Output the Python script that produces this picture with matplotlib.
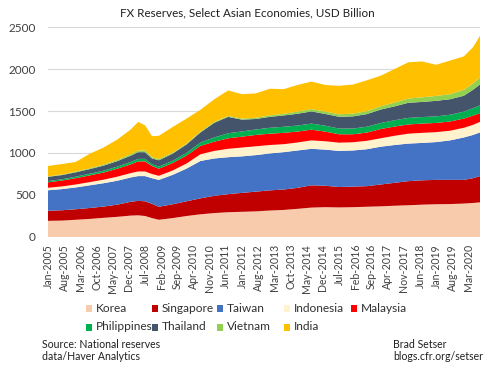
import matplotlib
matplotlib.use("Agg")
import matplotlib.pyplot as plt
from matplotlib.patches import Patch

# ---- data (USD billion), sampled months since Jan-2005 ----
months = [0, 6, 12, 18, 24, 30, 36, 39, 42, 45, 48, 54, 60, 66, 72, 78, 84, 90, 96,
          102, 108, 114, 120, 126, 132, 138, 144, 150, 156, 162, 168, 174, 180, 184, 187]

korea = [192, 195, 205, 215, 228, 240, 255, 258, 250, 225, 205, 225, 250, 270, 285, 295, 300, 305, 315,
         322, 335, 350, 355, 352, 355, 360, 365, 372, 378, 385, 390, 392, 398, 405, 412]
singapore = [120, 123, 125, 130, 134, 145, 165, 172, 175, 170, 155, 165, 175, 190, 205, 215, 225, 235, 240,
             243, 250, 265, 255, 243, 245, 245, 260, 273, 287, 290, 290, 288, 282, 295, 313]
taiwan = [244, 252, 260, 270, 278, 285, 290, 295, 300, 305, 320, 350, 390, 445, 445, 440, 435, 435, 440,
          445, 445, 435, 430, 430, 430, 440, 450, 450, 447, 445, 450, 470, 505, 515, 520]
indonesia = [30, 32, 35, 38, 42, 48, 52, 55, 55, 50, 48, 52, 60, 80, 90, 100, 105, 105, 100,
             95, 95, 100, 100, 98, 98, 100, 100, 110, 118, 120, 118, 115, 115, 120, 125]
malaysia = [65, 70, 75, 80, 85, 95, 105, 120, 120, 95, 85, 88, 95, 100, 110, 125, 130, 135, 135,
            135, 130, 128, 115, 100, 95, 98, 110, 110, 110, 110, 110, 110, 110, 110, 105]
philippines = [15, 15, 18, 20, 22, 25, 28, 30, 30, 20, 25, 28, 32, 40, 50, 60, 62, 65, 70,
               72, 72, 72, 70, 68, 68, 70, 72, 75, 78, 78, 78, 80, 82, 88, 92]
thailand = [50, 50, 52, 55, 60, 65, 75, 80, 80, 70, 75, 85, 100, 120, 175, 195, 140, 125, 130,
            135, 140, 145, 140, 140, 145, 150, 160, 165, 180, 180, 185, 185, 190, 220, 250]
vietnam = [5, 6, 8, 10, 12, 15, 18, 20, 20, 15, 15, 12, 10, 10, 10, 10, 12, 15, 18,
           20, 25, 28, 28, 30, 32, 35, 38, 45, 50, 55, 58, 60, 70, 75, 80]
india = [125, 125, 115, 172, 204, 242, 297, 340, 300, 250, 277, 305, 298, 260, 270, 305, 291, 290, 317,
         293, 318, 327, 317, 339, 347, 367, 365, 400, 432, 427, 371, 400, 398, 432, 498]

series_names = ["Korea", "Singapore", "Taiwan", "Indonesia", "Malaysia",
                "Philippines", "Thailand", "Vietnam", "India"]
colors = ["#F8CBAD", "#C00000", "#4472C4", "#FFF2CC", "#FF0000",
          "#00B050", "#44546A", "#92D050", "#FFC000"]

tick_months = list(range(0, 183, 7))
tick_labels = ["Jan-2005", "Aug-2005", "Mar-2006", "Oct-2006", "May-2007", "Dec-2007",
               "Jul-2008", "Feb-2009", "Sep-2009", "Apr-2010", "Nov-2010", "Jun-2011",
               "Jan-2012", "Aug-2012", "Mar-2013", "Oct-2013", "May-2014", "Dec-2014",
               "Jul-2015", "Feb-2016", "Sep-2016", "Apr-2017", "Nov-2017", "Jun-2018",
               "Jan-2019", "Aug-2019", "Mar-2020"]
y_ticks = [0, 500, 1000, 1500, 2000, 2500]

plt.rcParams["font.family"] = ["Lato", "DejaVu Sans"]

fig = plt.figure(figsize=(5.0, 3.7), dpi=100)
ax = fig.add_axes([0.096, 0.3595, 0.864, 0.5675])

values = [korea, singapore, taiwan, indonesia, malaysia, philippines, thailand, vietnam, india]
ax.stackplot(months, *values, colors=colors, linewidth=0, zorder=2)

ax.set_xlim(0, 187)
ax.set_ylim(0, 2500)
ax.set_yticks(y_ticks)
ax.set_yticklabels([str(v) for v in y_ticks], fontsize=8.5, color="#404040")
ax.set_xticks(tick_months)
ax.set_xticklabels(tick_labels, rotation=90, fontsize=7.6, color="#404040")
ax.tick_params(axis="both", length=0)
ax.tick_params(axis="y", pad=9)
ax.tick_params(axis="x", pad=5)
ax.grid(axis="y", color="#D9D9D9", linewidth=0.8, zorder=0)
ax.set_axisbelow(True)
for s in ax.spines.values():
    s.set_visible(False)

fig.text(0.495, 0.965, "FX Reserves, Select Asian Economies, USD Billion",
         ha="center", va="center", fontsize=8.4, color="#202020")

# legend: 5 columns, 2 rows
col_x = [0.178, 0.31, 0.44, 0.574, 0.708]
row_y = [1 - 308 / 370, 1 - 327 / 370]
for i, (name, c) in enumerate(zip(series_names, colors)):
    r, k = divmod(i, 5)
    fig.patches.append(plt.Rectangle((col_x[k] - 0.006, row_y[r] - 0.0095), 0.012, 0.017,
                                     transform=fig.transFigure, facecolor=c,
                                     edgecolor="none"))
    fig.text(col_x[k] + 0.014, row_y[r], name, ha="left", va="center",
             fontsize=8.6, color="#303030")

fig.text(0.084, 1 - 344 / 370, "Source: National reserves", ha="left", va="center",
         fontsize=7.6, color="#202020")
fig.text(0.084, 1 - 357 / 370, "data/Haver Analytics", ha="left", va="center",
         fontsize=7.6, color="#202020")
fig.text(0.786, 1 - 344 / 370, "Brad Setser", ha="left", va="center",
         fontsize=7.6, color="#202020")
fig.text(0.786, 1 - 357 / 370, "blogs.cfr.org/setser", ha="left", va="center",
         fontsize=7.6, color="#202020")

fig.savefig("out.png", dpi=100)
